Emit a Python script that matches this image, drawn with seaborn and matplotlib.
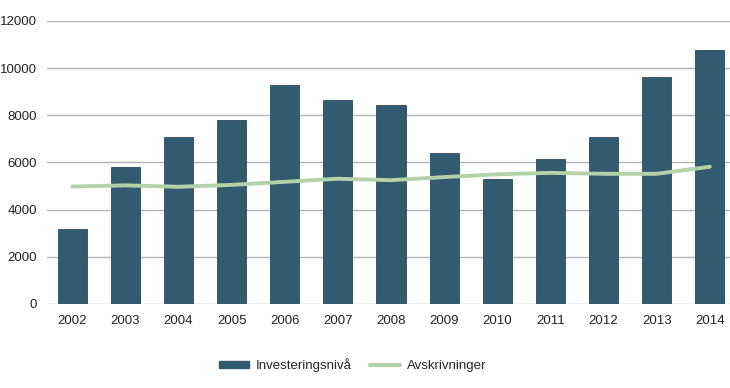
import numpy as np
import pandas as pd
import matplotlib
matplotlib.use("Agg")
import matplotlib.pyplot as plt
import seaborn as sns
from matplotlib.patches import Patch
from matplotlib.lines import Line2D

years = ["2002", "2003", "2004", "2005", "2006", "2007", "2008",
         "2009", "2010", "2011", "2012", "2013", "2014"]
investering = [3200, 5800, 7100, 7780, 9280, 8650, 8450,
               6400, 5300, 6130, 7080, 9620, 10780]
avskrivninger = [4980, 5030, 4970, 5050, 5180, 5310, 5250,
                 5380, 5500, 5560, 5520, 5520, 5820]

bar_color = "#335b70"
line_color = "#b3d2a8"

sns.set_theme(style="white")
plt.rcParams["font.family"] = ["Liberation Sans", "DejaVu Sans"]

df = pd.DataFrame({"year": years, "inv": investering, "avs": avskrivninger})

fig = plt.figure(figsize=(7.3, 3.88), dpi=100)
ax = fig.add_axes([0.064, 0.2165, 0.936, 0.7295])

sns.barplot(data=df, x="year", y="inv", color=bar_color, width=0.55,
            saturation=1, edgecolor="#2a4a5c", linewidth=0.6, ax=ax, zorder=2)
sns.lineplot(x=np.arange(len(years)), y=df["avs"], color=line_color,
             linewidth=2.8, ax=ax, zorder=3)

ax.set_xlim(-0.48, 12.38)
ax.set_ylim(0, 12000)
ax.set_yticks(np.arange(0, 12001, 2000))
ax.yaxis.grid(True, color="#b4b4b4", linewidth=1)
ax.set_axisbelow(True)
for s in ax.spines.values():
    s.set_visible(False)
ax.set_xlabel("")
ax.set_ylabel("")
ax.tick_params(axis="both", labelsize=9.5, colors="#222222", length=0)
ax.tick_params(axis="x", pad=8)
ax.tick_params(axis="y", pad=7)

handles = [Patch(facecolor=bar_color, edgecolor=bar_color),
           Line2D([0], [0], color=line_color, linewidth=3)]
fig.legend(handles, ["Investeringsnivå", "Avskrivninger"], loc="center",
           bbox_to_anchor=(0.483, 0.058), ncol=2, frameon=False, fontsize=9.5,
           handlelength=2.3, handleheight=0.4, handletextpad=0.5,
           columnspacing=1.4)

fig.savefig("out.png", dpi=100)
